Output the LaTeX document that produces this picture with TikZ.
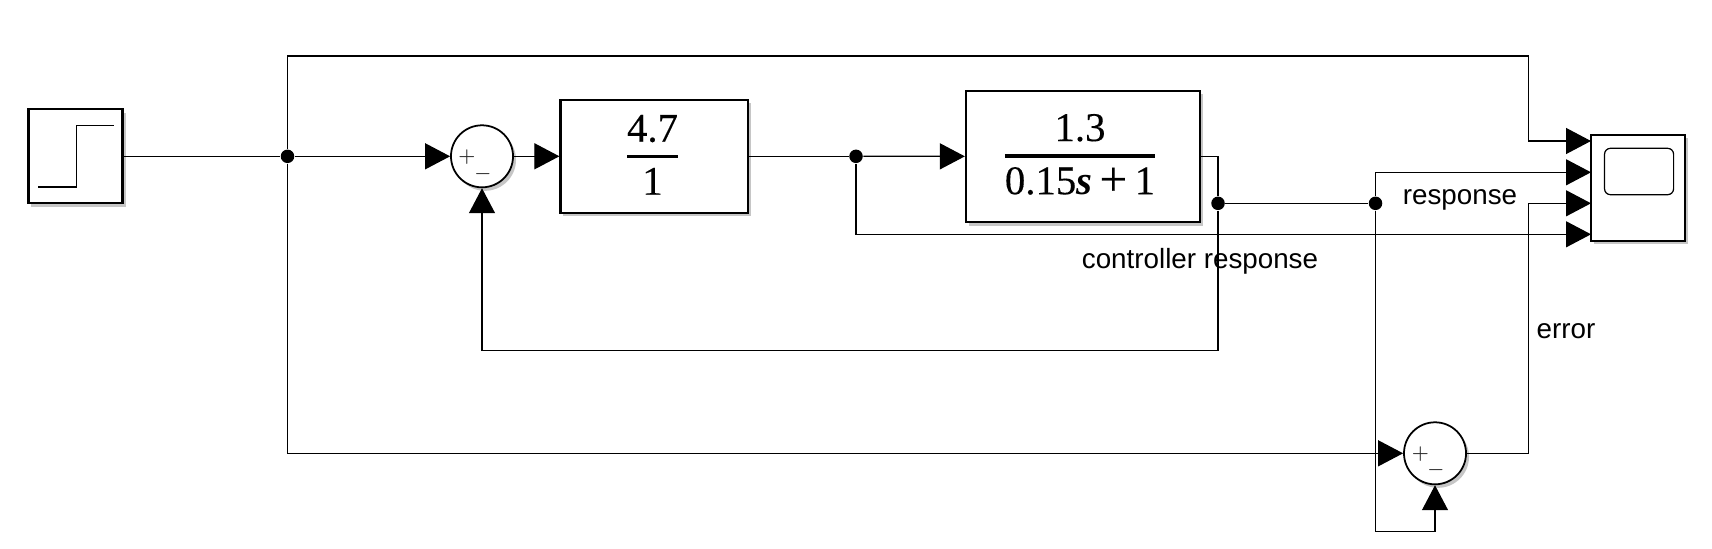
\documentclass[tikz,border=0pt]{standalone}
\usepackage{amsmath}
\usepackage{fontspec}
\setmainfont{Liberation Serif}
\newfontfamily\labelfont{Liberation Sans}
\newfontfamily\fracfont[FakeBold=0.25]{Liberation Serif}
\newfontfamily\fracvar{Liberation Serif Bold Italic}
\usetikzlibrary{arrows.meta,shadows}
\newcommand{\blockfrac}[2]{$\genfrac{}{}{0.9pt}{0}{\mbox{\fracfont\fontsize{11.6}{12}\selectfont #1}}{\mbox{\fracfont\fontsize{11.6}{12}\selectfont #2}}$}
\newcommand{\bigplus}{{\fontsize{14}{12}\selectfont\raisebox{-0.4pt}{+}}}

\begin{document}
\begin{tikzpicture}
    [
        x=0.01cm, y=-0.01cm,
        wire/.style={line width=0.35pt},
        signal/.style={wire, -{Triangle[length=0.25cm,width=0.26cm]}},
        dot/.style={circle, fill=black, inner sep=0pt, minimum size=0.135cm},
        soft/.style={drop shadow={shadow xshift=0.03cm, shadow yshift=-0.035cm, opacity=0.45}},
        block/.style={draw, line width=0.6pt, fill=white, soft, inner sep=0pt},
        sumblock/.style={block, circle, minimum size=0.62cm, line width=0.5pt},
        sign/.style={font=\fontsize{5.5}{6}\selectfont, text=black!85, inner sep=0pt},
        formula/.style={inner sep=0pt},
        tag/.style={font=\labelfont\fontsize{7.9}{9}\selectfont, inner sep=0pt}
    ]
    \useasboundingbox (0,0) rectangle (1712,548);

    % blocks
    \node[block, minimum width=0.94cm, minimum height=0.94cm] (step) at (75.5,156.3) {};
    \draw[wire] (38,187) -- (76.4,187) -- (76.4,125.3) -- (113.6,125.3);
    \node[sumblock] (sum1) at (482,156.3) {};
    \node[sign] (sum1plus) at (467,157.5) {$+$};
    \node[sign] (sum1minus) at (483,173.7) {$-$};
    \node[block, minimum width=1.87cm, minimum height=1.127cm] (gain) at (654,156.3) {};
    \node[formula] (gainfrac) at (652.5,154.8) {\blockfrac{4.7}{1}};
    \node[block, minimum width=2.34cm, minimum height=1.316cm] (plant) at (1083,156.4) {};
    \node[formula] (plantfrac) at (1080,154.8) {\blockfrac{1.3}{0.15{\fracvar s}\hspace{2.1pt}\bigplus\hspace{2.1pt}1}};
    \node[block, minimum width=0.94cm, minimum height=1.063cm] (scope) at (1638,187.8) {};
    \draw[wire, rounded corners=0.06cm] (1604.5,148.3) rectangle (1673.6,194.7);
    \node[sumblock] (sum2) at (1435,453.3) {};
    \node[sign] (sum2plus) at (1420.5,454.5) {$+$};
    \node[sign] (sum2minus) at (1436,470.5) {$-$};

    % branch points
    \node[dot] (j1) at (287.5,156.3) {};
    \node[dot] (j2) at (856,156.3) {};
    \node[dot] (j3) at (1218,203.3) {};
    \node[dot] (j4) at (1375.5,203.3) {};
    \coordinate (p1) at (1591,141);
    \coordinate (p2) at (1591,172.3);
    \coordinate (p3) at (1591,203.3);
    \coordinate (p4) at (1591,234.3);
    \coordinate (topright) at (1528.5,56);
    \coordinate (fbcorner) at (1218,350.5);
    \coordinate (errcorner) at (1528.5,453.3);
    \coordinate (loopcorner) at (1375.5,531.3);

    % connectors
    \draw[wire] (step) -- (j1);
    \draw[signal] (j1) -- (sum1);
    \draw[signal] (sum1) -- (gain);
    \draw[wire] (gain) -- (j2);
    \draw[signal] (j2) -- (plant);
    \draw[wire] (plant.east |- j2) -| (j3);
    \draw[wire] (j3) -- (j4);
    \draw[signal] (j3) -- (fbcorner) -| (sum1);
    \draw[signal] (j1) |- (topright) |- (p1);
    \draw[signal] (j4) |- (p2);
    \draw[signal] (j2) |- (p4);
    \draw[signal] (j1) |- (sum2);
    \draw[signal] (j4) -- (loopcorner) -| (sum2);
    \draw[wire] (sum2) -- (errcorner);
    \draw[signal] (errcorner) |- (p3);

    % signal names
    \node[tag] (lblresponse) at (1460,200) {response};
    \node[tag] (lblcontroller) at (1200,261) {controller response};
    \node[tag] (lblerror) at (1566,331) {error};
\end{tikzpicture}
\end{document}
